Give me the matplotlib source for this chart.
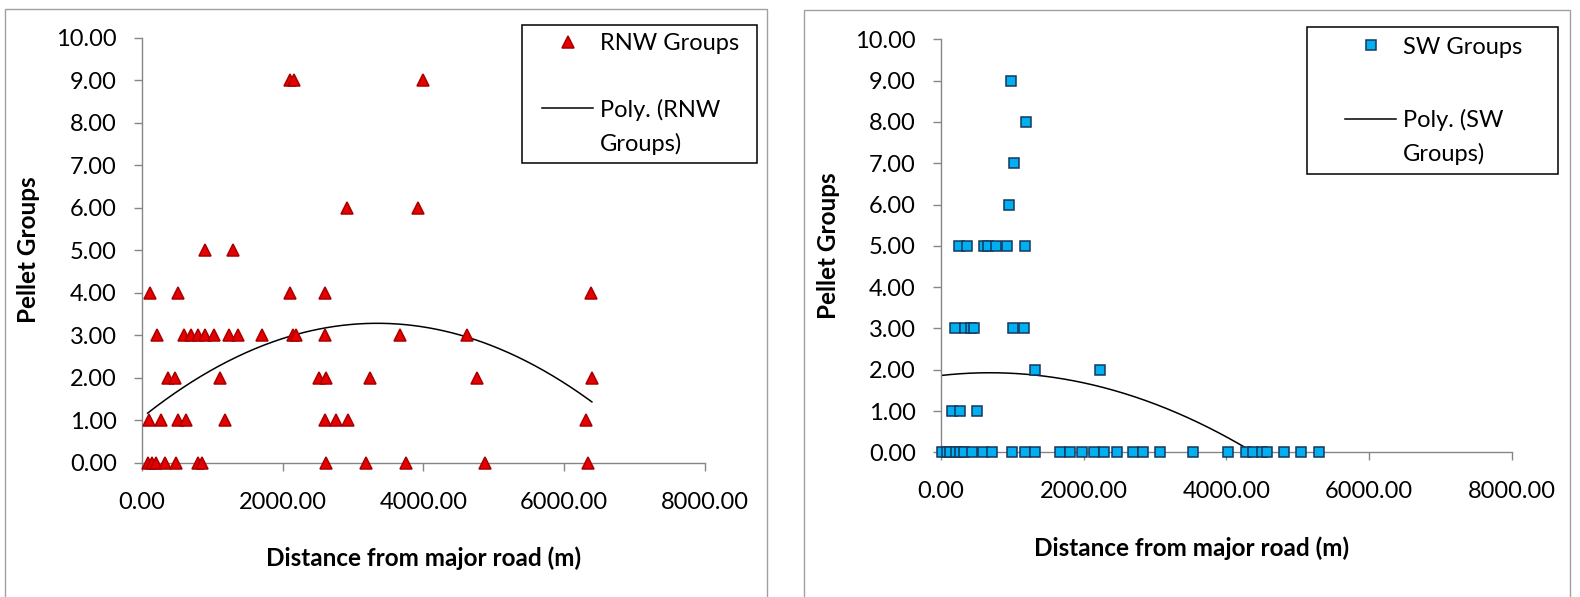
import numpy as np
import matplotlib
matplotlib.use("Agg")
import matplotlib.pyplot as plt
from matplotlib.lines import Line2D
from matplotlib.patches import Rectangle
from matplotlib.ticker import FormatStrFormatter

plt.rcParams['font.family'] = ['Lato', 'DejaVu Sans']

# ---------------- data ----------------
rnw_x = [2103, 2159, 3993,
         2911, 3926,
         892, 1290,
         112, 522, 2103, 2608, 6383,
         213, 606, 701, 802, 897, 1021, 1239, 1374, 1711, 2142, 2198, 2597, 3662, 4627,
         376, 477, 1111, 2524, 2619, 3236, 4767, 6394,
         101, 269, 516, 628, 1189, 2608, 2765, 2928, 6310,
         84, 140, 196, 337, 494, 796, 853, 2619, 3180, 3752, 4880, 6338]
rnw_y = [9, 9, 9,
         6, 6,
         5, 5,
         4, 4, 4, 4, 4,
         3, 3, 3, 3, 3, 3, 3, 3, 3, 3, 3, 3, 3, 3,
         2, 2, 2, 2, 2, 2, 2, 2,
         1, 1, 1, 1, 1, 1, 1, 1, 1,
         0, 0, 0, 0, 0, 0, 0, 0, 0, 0, 0, 0]

sw_x = [981, 1191, 1019, 953,
        255, 369, 603, 653, 767, 928, 1181,
        200, 337, 416, 456, 1015, 1170,
        1319, 2227,
        150, 260, 499,
        11, 78, 122, 205, 260, 316, 438, 582, 715, 997, 1175, 1319, 1673, 1812,
        1978, 2144, 2283, 2465, 2687, 2837, 3064, 3529, 4022, 4271, 4371, 4499,
        4571, 4803, 5053, 5302]
sw_y = [9, 8, 7, 6,
        5, 5, 5, 5, 5, 5, 5,
        3, 3, 3, 3, 3, 3,
        2, 2,
        1, 1, 1,
        0, 0, 0, 0, 0, 0, 0, 0, 0, 0, 0, 0, 0, 0,
        0, 0, 0, 0, 0, 0, 0, 0, 0, 0, 0, 0,
        0, 0, 0, 0]

# polynomial (order 2) trendline coefficients
# (highest power first)
rnw_trend = [-1.9891e-7, 1.3304e-3, 1.0554]
sw_trend = [-1.4126e-7, 1.9335e-4, 1.86]

x_ticks = [0, 2000, 4000, 6000, 8000]
y_ticks = [0, 1, 2, 3, 4, 5, 6, 7, 8, 9, 10]
x_label = "Distance from major road (m)"
y_label = "Pellet Groups"
rnw_names = ["RNW Groups", "Poly. (RNW", "Groups)"]
sw_names = ["SW Groups", "Poly. (SW", "Groups)"]

# ---------------- layout ----------------
W, H = 1580, 597
fig = plt.figure(figsize=(W / 100, H / 100), dpi=100)
fig.patch.set_facecolor('white')


def fx(px):
    return px / W


def fy(py):
    return 1 - py / H


FS = 17
LFS = 17.5
GRAY = '#868686'


def setup(ax):
    ax.set_xlim(0, 8000)
    ax.set_ylim(0, 10)
    ax.set_xticks(x_ticks)
    ax.set_yticks(y_ticks)
    ax.xaxis.set_major_formatter(FormatStrFormatter('%.2f'))
    ax.yaxis.set_major_formatter(FormatStrFormatter('%.2f'))
    for s in ['top', 'right']:
        ax.spines[s].set_visible(False)
    for s in ['left', 'bottom']:
        ax.spines[s].set_color(GRAY)
        ax.spines[s].set_linewidth(1.0)
    ax.tick_params(axis='both', direction='out', length=6, width=1.0,
                   color=GRAY, labelsize=FS, labelcolor='black')
    ax.tick_params(axis='y', pad=12)
    ax.tick_params(axis='x', pad=15)
    ax.set_facecolor('none')


def panel(x0, y0, x1, y1):
    fig.add_artist(Rectangle((fx(x0), fy(y1)), (x1 - x0) / W, (y1 - y0) / H,
                             transform=fig.transFigure, fill=False,
                             ec='#A0A0A0', lw=1.0, zorder=0))


panel(5, 9, 767, 610)
panel(804, 10, 1570, 610)

axL = fig.add_axes([fx(141.7), fy(462.7), (705 - 141.7) / W, (462.7 - 37.7) / H])
axR = fig.add_axes([fx(941), fy(452.3), (1511.7 - 941) / W, (452.3 - 39.3) / H])
setup(axL)
setup(axR)


def draw(ax, xs, ys, trend, marker, fc, ec, ms, names, leg_box, hx, row1_center,
         blank_fs, xl_pos, yl_pos):
    xs = np.asarray(xs, float)
    ys = np.asarray(ys, float)
    sc, = ax.plot(xs, ys, linestyle='none', marker=marker, ms=ms, mfc=fc,
                  mec=ec, mew=1.1, clip_on=False, zorder=3)
    xx = np.linspace(min(xs.min(), 0) if xs.min() < 50 else xs.min(), xs.max(), 400)
    ln, = ax.plot(xx, np.polyval(trend, xx), color='black', lw=1.1, zorder=2)
    blank1 = Line2D([], [], linestyle='none')
    blank2 = Line2D([], [], linestyle='none')
    leg = ax.legend([sc, blank1, ln, blank2], [names[0], ' ', names[1], names[2]],
                    loc='upper left', bbox_to_anchor=(fx(hx), fy(row1_center - 11)),
                    bbox_transform=fig.transFigure, frameon=False, borderpad=0,
                    borderaxespad=0, handlelength=2.16, handletextpad=0.28,
                    labelspacing=0.5, numpoints=1, fontsize=FS)
    leg.get_texts()[1].set_fontsize(blank_fs)
    x0, y0, x1, y1 = leg_box
    fig.add_artist(Rectangle((fx(x0), fy(y1)), (x1 - x0) / W, (y1 - y0) / H,
                             transform=fig.transFigure, fill=False,
                             ec='black', lw=1.1, zorder=5))
    ax.set_xlabel(x_label, fontsize=LFS, fontweight='bold')
    ax.xaxis.set_label_coords(fx(xl_pos[0]), fy(xl_pos[1]), transform=fig.transFigure)
    ax.xaxis.label.set_va('center')
    ax.set_ylabel(y_label, fontsize=LFS, fontweight='bold')
    ax.yaxis.set_label_coords(fx(yl_pos[0]), fy(yl_pos[1]), transform=fig.transFigure)
    ax.yaxis.label.set_va('center')


draw(axL, rnw_x, rnw_y, rnw_trend, '^', '#E60000', '#A80000', 8.2, rnw_names,
     (522, 25, 757, 163), 542, 44, 17.5, (424, 558), (29, 250))
draw(axR, sw_x, sw_y, sw_trend, 's', '#00B0F0', '#17375E', 7.2, sw_names,
     (1307, 27, 1558, 174), 1345, 47.7, 22.3, (1192, 548), (828, 246))

fig.savefig('out.png', dpi=100, facecolor='white')
